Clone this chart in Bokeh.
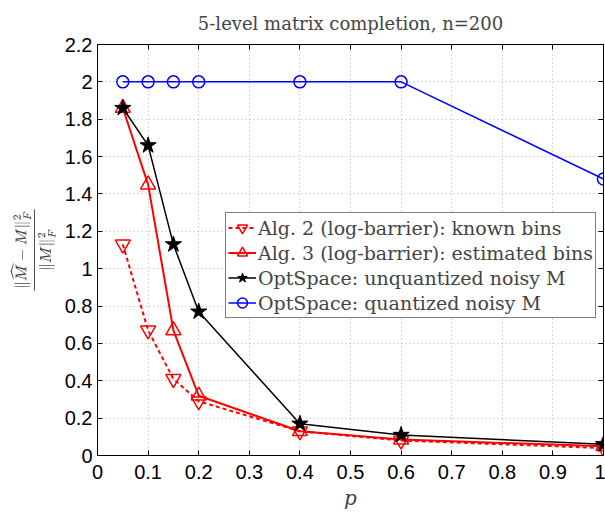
from bokeh.plotting import figure
from bokeh.models import FixedTicker, CustomJSTickFormatter, Legend, LinearAxis
from bokeh.embed import file_html
from bokeh.resources import INLINE

p_vals = [0.05, 0.1, 0.15, 0.2, 0.4, 0.6, 1.0]
alg2_known = [1.13, 0.67, 0.41, 0.29, 0.13, 0.08, 0.04]
alg3_est = [1.86, 1.45, 0.67, 0.32, 0.13, 0.085, 0.05]
opt_unq = [1.86, 1.66, 1.13, 0.77, 0.17, 0.11, 0.06]
opt_q = [2.0, 2.0, 2.0, 2.0, 2.0, 2.0, 1.48]

x_ticks = [0, 0.1, 0.2, 0.3, 0.4, 0.5, 0.6, 0.7, 0.8, 0.9, 1.0]
y_ticks = [0, 0.2, 0.4, 0.6, 0.8, 1.0, 1.2, 1.4, 1.6, 1.8, 2.0, 2.2]

labels = [
    "Alg. 2 (log-barrier): known bins",
    "Alg. 3 (log-barrier): estimated bins",
    "OptSpace: unquantized noisy M",
    "OptSpace: quantized noisy M",
]

p = figure(width=605, height=512, output_backend="svg", toolbar_location=None,
           x_range=(0, 1), y_range=(0, 2.2),
           min_border_left=97, min_border_right=2, min_border_top=44, min_border_bottom=57,
           title="5-level matrix completion, n=200")
p.title.align = "center"
p.title.text_font = "DejaVu Serif"
p.title.text_font_style = "normal"
p.title.text_font_size = "18px"
p.title.standoff = 21

p.outline_line_color = "black"
p.outline_line_width = 1
p.background_fill_color = "white"
p.border_fill_color = "white"

fmt = CustomJSTickFormatter(code="return Number(tick.toFixed(2)).toString();")

# mirrored tick-only axes (MATLAB box style)
p.add_layout(LinearAxis(), "above")
p.add_layout(LinearAxis(), "right")

for ax in p.xaxis:
    ax.ticker = FixedTicker(ticks=x_ticks)
for ax in p.yaxis:
    ax.ticker = FixedTicker(ticks=y_ticks)

for ax in list(p.xaxis) + list(p.yaxis):
    ax.formatter = fmt
    ax.major_tick_in = 5
    ax.major_tick_out = 0
    ax.minor_tick_line_color = None
    ax.major_label_text_font = "Liberation Sans"
    ax.major_label_text_font_size = "20px"
    ax.major_label_text_color = "black"
    ax.axis_line_color = "black"
    ax.major_tick_line_color = "black"

for ax in (p.above[-1], p.right[-1]):
    ax.major_label_text_font_size = "1px"
    ax.major_label_text_alpha = 0
    ax.major_label_standoff = 0

xb = p.below[0]
xb.axis_label = "p"
xb.axis_label_text_font = "DejaVu Serif"
xb.axis_label_text_font_style = "italic"
xb.axis_label_text_font_size = "20px"
xb.axis_label_standoff = 4
xb.major_label_standoff = 9

yl = p.left[0]
yl.axis_label = r"$$\frac{\|\widehat{M}-M\|_F^2}{\|M\|_F^2}$$"
yl.axis_label_text_font_size = "13.5px"
yl.axis_label_standoff = 6
yl.major_label_standoff = 5

p.grid.grid_line_color = "#b0b0b0"
p.grid.grid_line_dash = "1 3"
p.grid.grid_line_width = 1

red = "#ff0000"
blue = "#0000ff"

r1l = p.line(p_vals, alg2_known, line_color=red, line_width=2, line_dash="4 3")
r1m = p.scatter(p_vals, alg2_known, marker="inverted_triangle", size=15, line_color=red,
                line_width=1.5, fill_alpha=0)
r2l = p.line(p_vals, alg3_est, line_color=red, line_width=2)
r2m = p.scatter(p_vals, alg3_est, marker="triangle", size=15, line_color=red,
                line_width=1.5, fill_alpha=0)
r3l = p.line(p_vals, opt_unq, line_color="black", line_width=1.5)
r3m = p.scatter(p_vals, opt_unq, marker="star", size=17, line_color="black",
                fill_color="black", line_width=1)
r4l = p.line(p_vals, opt_q, line_color=blue, line_width=1.5)
r4m = p.scatter(p_vals, opt_q, marker="circle", size=12, line_color=blue,
                line_width=1.5, fill_alpha=0)

legend = Legend(items=[(labels[0], [r1l, r1m]), (labels[1], [r2l, r2m]),
                       (labels[2], [r3l, r3m]), (labels[3], [r4l, r4m])],
                location=(128, 137))
legend.label_text_font = "DejaVu Serif"
legend.label_text_font_size = "19px"
legend.border_line_color = "black"
legend.border_line_width = 1
legend.padding = 2
legend.spacing = 0
legend.margin = 0
legend.glyph_width = 28
legend.glyph_height = 25
legend.label_height = 25
legend.label_standoff = 2
legend.background_fill_alpha = 1
p.add_layout(legend, "center")

open("out.html", "w").write(file_html(p, INLINE))
